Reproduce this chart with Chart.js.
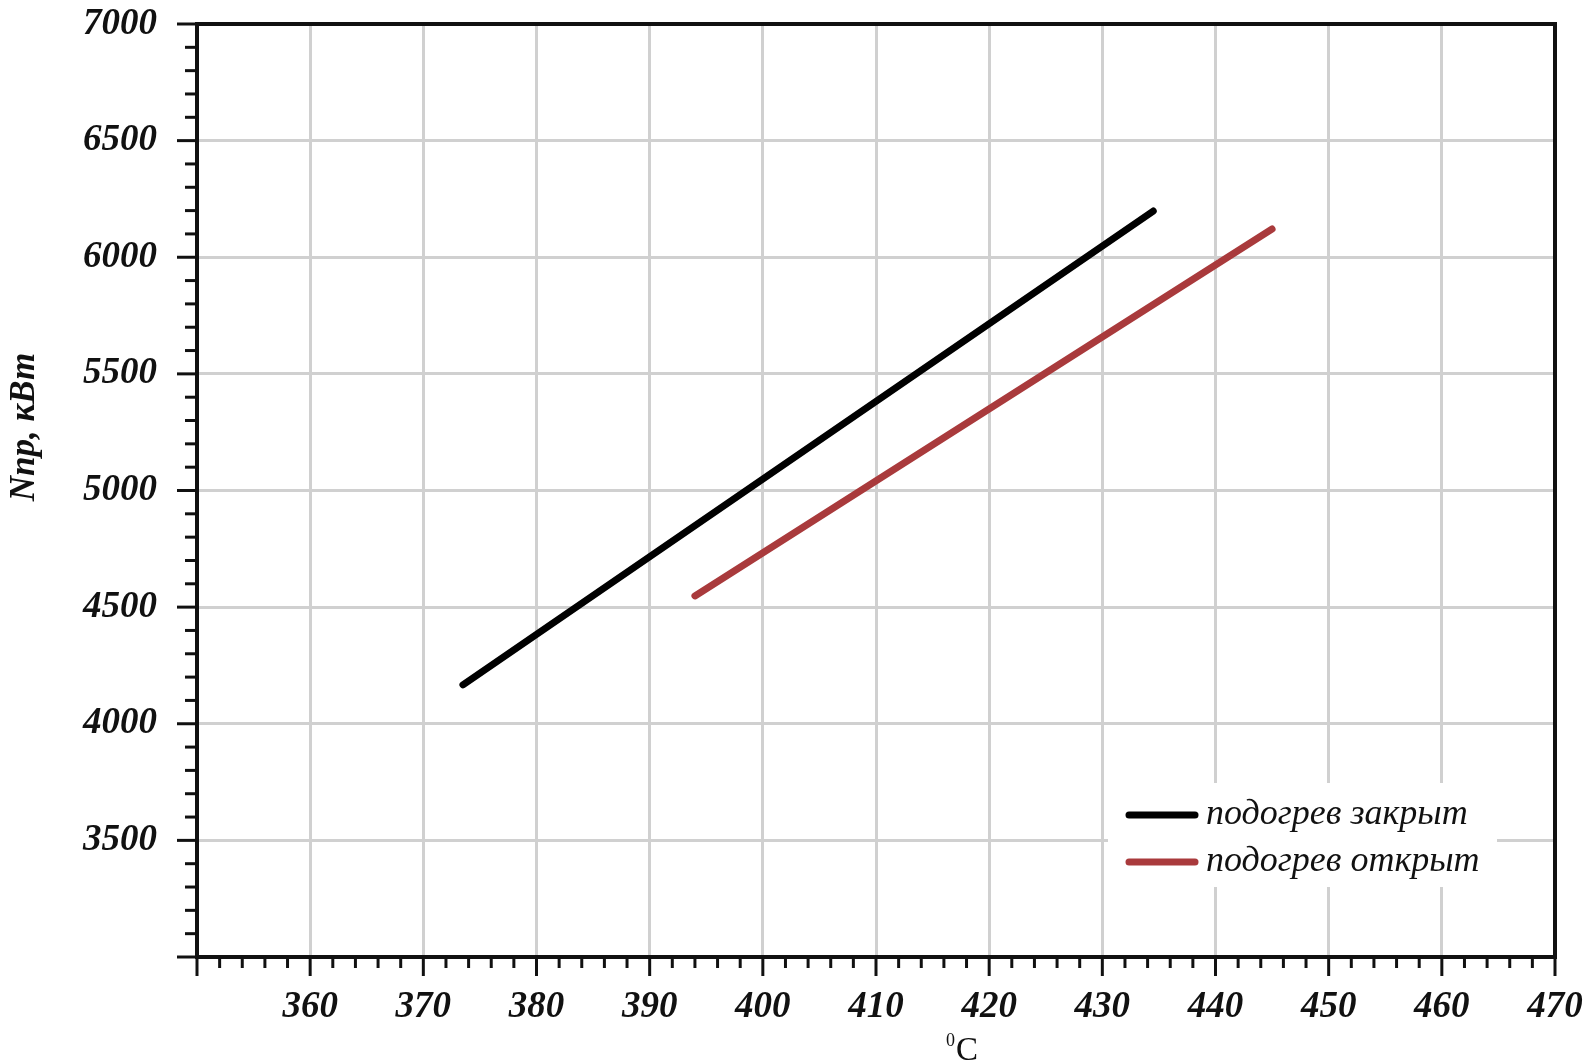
<!DOCTYPE html>
<html>
<head>
<meta charset="utf-8">
<script src="https://cdn.jsdelivr.net/npm/chart.js@4/dist/chart.umd.min.js"></script>
<style>
  html, body { margin: 0; padding: 0; background: #fff; }
  #wrap { width: 1587px; height: 1063px; }
</style>
</head>
<body>
<div id="wrap"><canvas id="chart"></canvas></div>
<script>
// series
const seriesNames = ['подогрев закрыт', 'подогрев открыт'];
const closedT = [373.5, 434.5];
const closedN = [4167, 6198];
const openT = [394.0, 445.0];
const openN = [4548, 6121];

// axis tick labels
const xLabels = ['360', '370', '380', '390', '400', '410', '420', '430', '440', '450', '460', '470'];
const yLabels = ['3500', '4000', '4500', '5000', '5500', '6000', '6500', '7000'];

const yTitle = 'Nпр, кВт';
const xTitleSup = '0';
const xTitleMain = 'C';

const tickFont = { family: 'Liberation Serif', size: 37, style: 'italic', weight: 'bold' };

const toPoints = (xs, ys) => xs.map((x, i) => ({ x: x, y: ys[i] }));

// frame, tick marks, axis titles and legend
const extras = {
  id: 'extras',
  afterDraw(chart) {
    const ctx = chart.ctx;
    const a = chart.chartArea;
    const xs = chart.scales.x;
    const ys = chart.scales.y;
    ctx.save();
    ctx.strokeStyle = '#111';
    ctx.lineWidth = 3;
    ys.ticks.forEach(t => {
      const py = ys.getPixelForValue(t.value);
      const len = t.value % 500 === 0 ? 20 : 12;
      ctx.beginPath();
      ctx.moveTo(a.left - len, py);
      ctx.lineTo(a.left, py);
      ctx.stroke();
    });
    xs.ticks.forEach(t => {
      const px = xs.getPixelForValue(t.value);
      const len = t.value % 10 === 0 ? 19 : 11;
      ctx.beginPath();
      ctx.moveTo(px, a.bottom);
      ctx.lineTo(px, a.bottom + len);
      ctx.stroke();
    });
    ctx.lineWidth = 4;
    ctx.strokeRect(a.left, a.top, a.right - a.left, a.bottom - a.top);

    // y title
    ctx.fillStyle = '#111';
    ctx.font = 'italic bold 35px "Liberation Serif"';
    ctx.translate(25, 427);
    ctx.rotate(-Math.PI / 2);
    ctx.textAlign = 'center';
    ctx.textBaseline = 'middle';
    ctx.fillText(yTitle, 0, 0);
    ctx.setTransform(1, 0, 0, 1, 0, 0);

    // x title
    ctx.textAlign = 'left';
    ctx.textBaseline = 'alphabetic';
    ctx.font = '18px "Liberation Serif"';
    ctx.fillText(xTitleSup, 946, 1046);
    ctx.font = '33px "Liberation Serif"';
    ctx.fillText(xTitleMain, 956, 1060);

    // legend
    ctx.fillStyle = '#fff';
    ctx.fillRect(1108, 783, 389, 104);
    ctx.font = 'italic 36px "Liberation Serif"';
    ctx.textBaseline = 'middle';
    ctx.lineCap = 'round';
    chart.data.datasets.forEach((ds, i) => {
      const ry = 815 + i * 47;
      ctx.strokeStyle = ds.borderColor;
      ctx.lineWidth = 7;
      ctx.beginPath();
      ctx.moveTo(1129, ry);
      ctx.lineTo(1195, ry);
      ctx.stroke();
      ctx.fillStyle = '#111';
      ctx.fillText(ds.label, 1206, ry);
    });
    ctx.restore();
  }
};

new Chart(document.getElementById('chart'), {
  type: 'scatter',
  data: {
    datasets: [
      {
        label: seriesNames[0],
        data: toPoints(closedT, closedN),
        showLine: true,
        borderColor: '#000',
        borderWidth: 7,
        borderCapStyle: 'round',
        pointRadius: 0
      },
      {
        label: seriesNames[1],
        data: toPoints(openT, openN),
        showLine: true,
        borderColor: '#a93a3c',
        borderWidth: 7,
        borderCapStyle: 'round',
        pointRadius: 0
      }
    ]
  },
  options: {
    responsive: true,
    maintainAspectRatio: false,
    animation: false,
    layout: { padding: { top: 24, right: 32, left: 0, bottom: 0 } },
    plugins: {
      legend: { display: false },
      tooltip: { enabled: false }
    },
    scales: {
      x: {
        type: 'linear',
        min: 350,
        max: 470,
        afterFit: s => { s.height = 106; s.paddingLeft = 0; s.paddingRight = 0; },
        border: { display: false },
        grid: {
          drawTicks: false,
          lineWidth: 3,
          color: c => (c.tick && c.tick.value % 10 === 0) ? '#d0d0d0' : 'rgba(0,0,0,0)'
        },
        ticks: {
          stepSize: 2,
          autoSkip: false,
          maxRotation: 0,
          minRotation: 0,
          padding: 28,
          color: '#111',
          font: tickFont,
          callback: v => xLabels.includes(String(v)) ? String(v) : ''
        }
      },
      y: {
        type: 'linear',
        min: 3000,
        max: 7000,
        afterFit: s => { s.width = 197; s.paddingTop = 0; s.paddingBottom = 0; },
        border: { display: false },
        grid: {
          drawTicks: false,
          lineWidth: 3,
          color: c => (c.tick && c.tick.value % 500 === 0) ? '#d0d0d0' : 'rgba(0,0,0,0)'
        },
        ticks: {
          stepSize: 100,
          autoSkip: false,
          padding: 40,
          color: '#111',
          font: tickFont,
          callback: v => yLabels.includes(String(v)) ? String(v) : ''
        }
      }
    }
  },
  plugins: [extras]
});
</script>
</body>
</html>
